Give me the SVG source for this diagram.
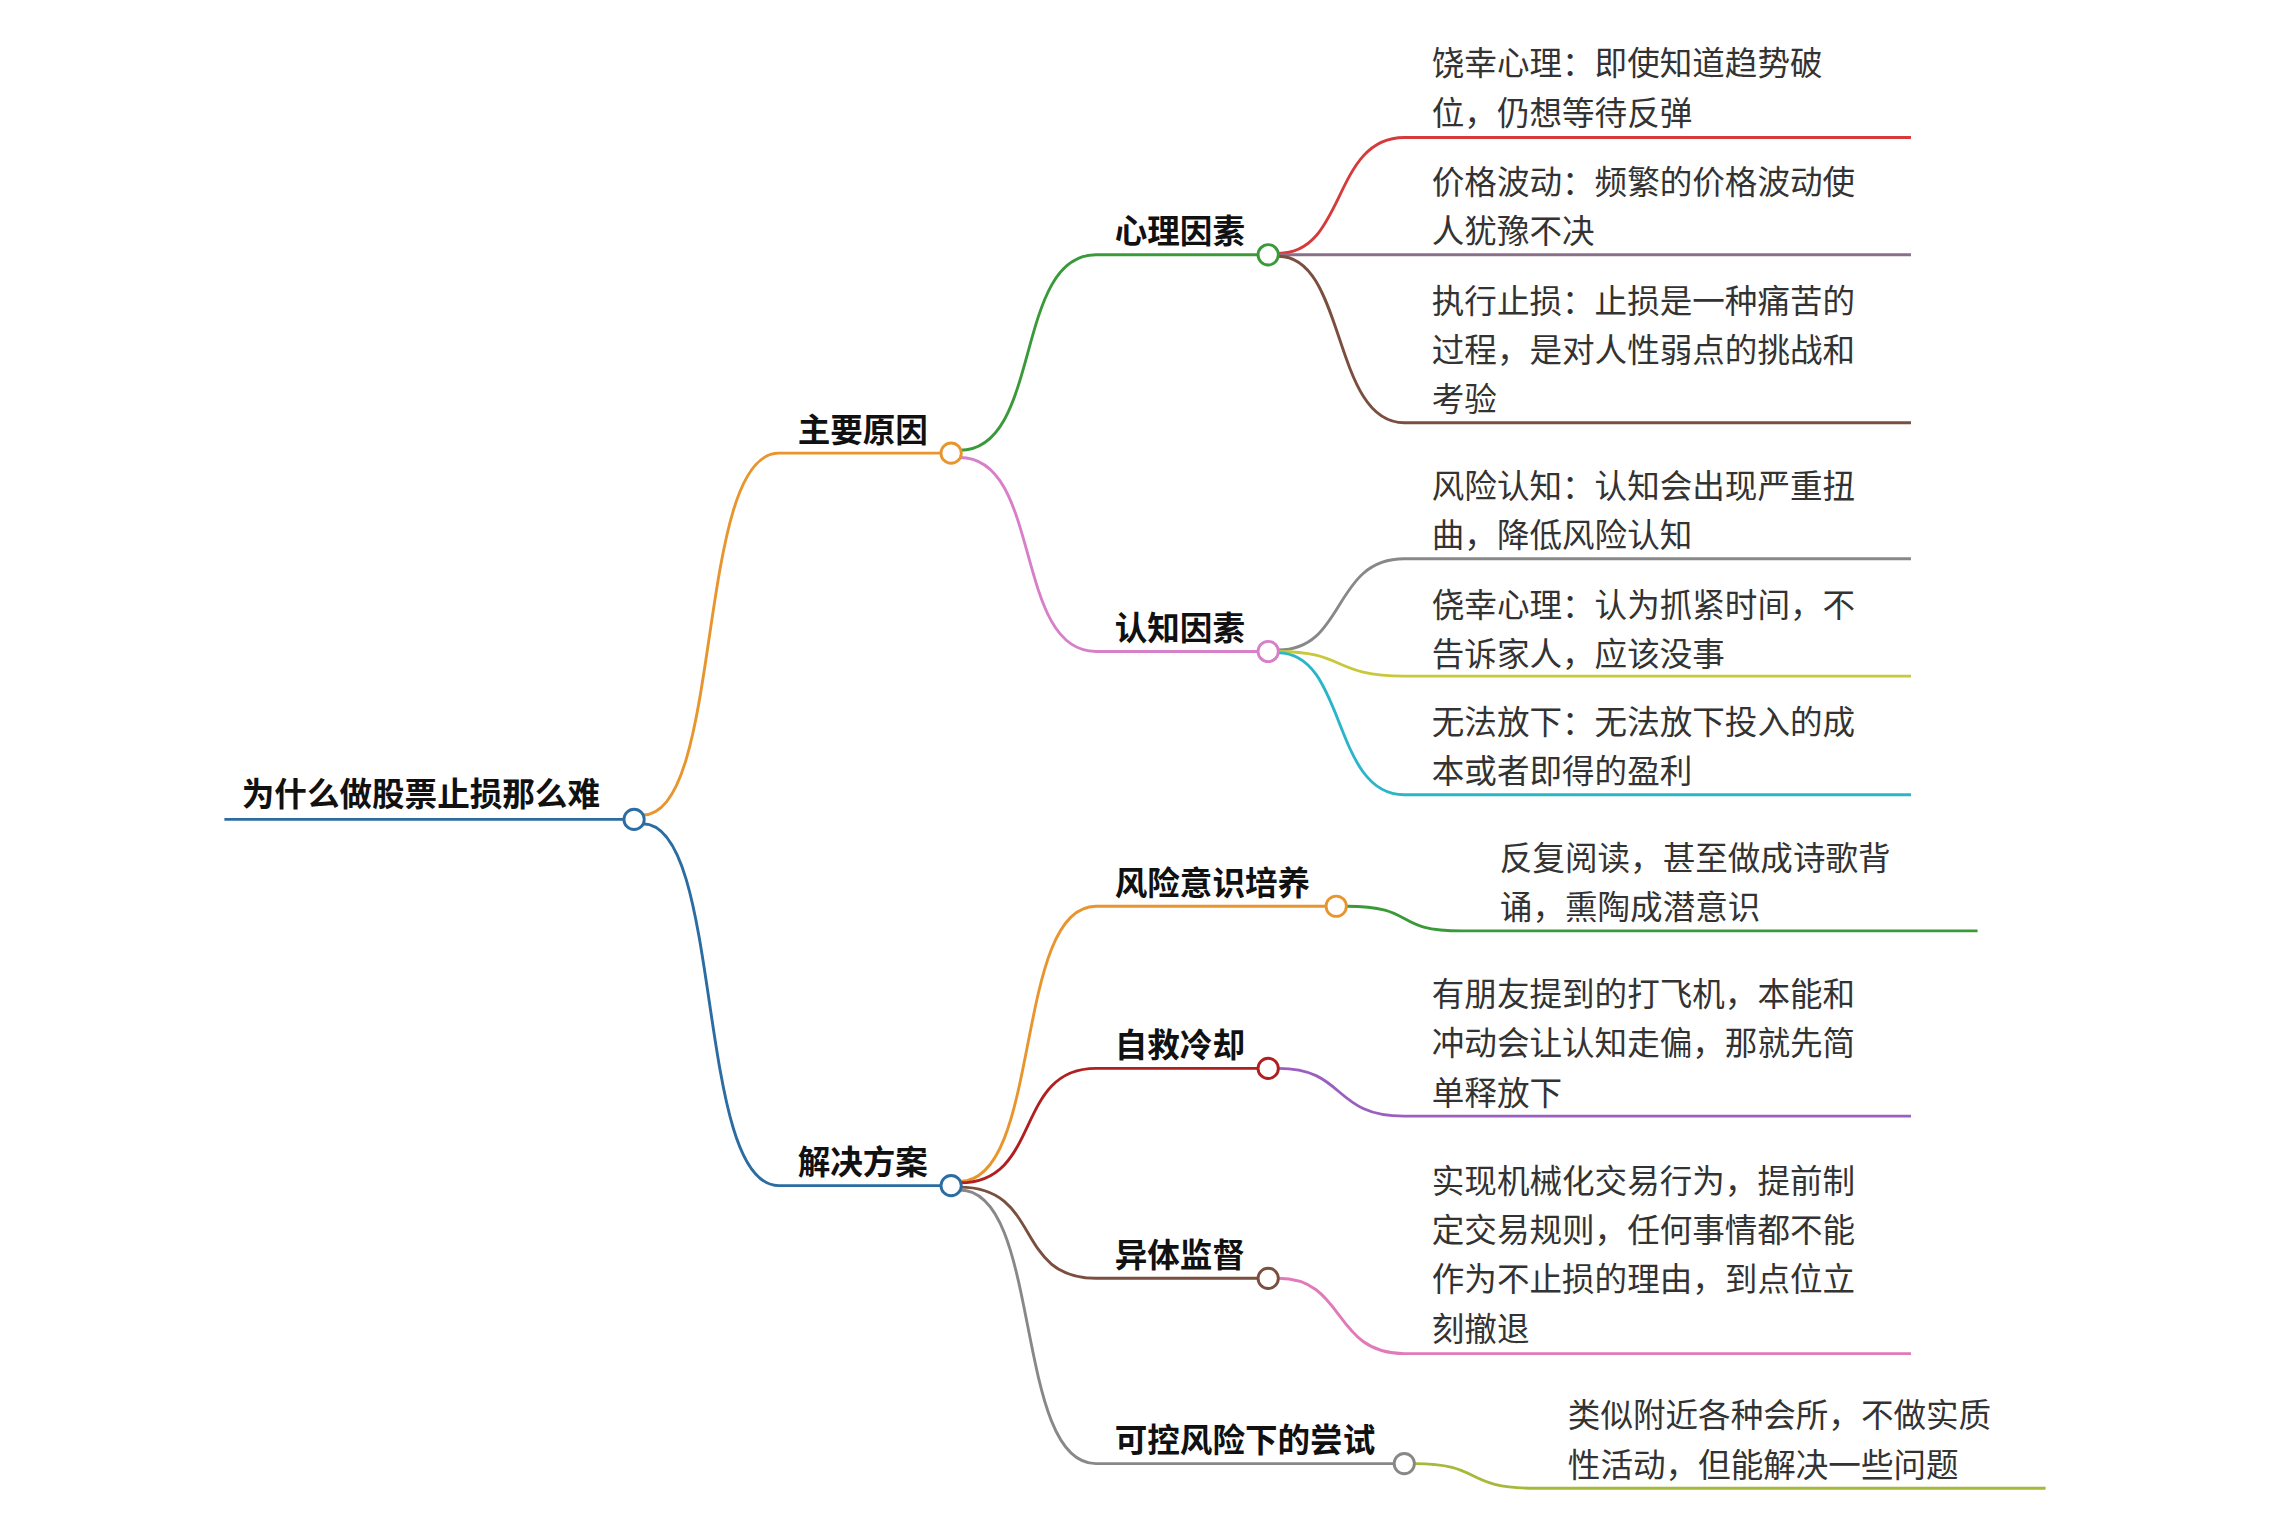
<svg xmlns="http://www.w3.org/2000/svg" width="2270" height="1527" viewBox="0 0 2270 1527">
<style>
.n{font-family:"Noto Sans CJK SC","Liberation Sans",sans-serif;font-size:22.5px;font-weight:bold;fill:#111}
.t{font-family:"Noto Sans CJK SC","Liberation Sans",sans-serif;font-size:22.5px;fill:#333}
path,line{fill:none;stroke-width:2}
circle{fill:#fff;stroke-width:2}
</style>
<rect width="2270" height="1527" fill="#fff"/>
<g transform="scale(1.4477)">
<g id="connectors">
<line x1="155" y1="566" x2="431" y2="566" stroke="#2b6ca3" stroke-width="3"/>
<path d="M444,563 C500,563 480,313 538,313 L650,313" stroke="#e8952e"/>
<path d="M444,569 C500,569 480,819 538,819 L650,819" stroke="#2b6ca3"/>
<path d="M663,311 C720,311 700,176 757,176 L869,176" stroke="#3a9a3a"/>
<path d="M663,316 C720,316 700,450 757,450 L869,450" stroke="#d77fc8"/>
<path d="M883,175 C930,175 920,95 970,95 L1320,95" stroke="#d63a3a"/>
<path d="M883,176 L1320,176" stroke="#8a6f8a"/>
<path d="M883,177 C930,177 920,292 970,292 L1320,292" stroke="#7a4f3f"/>
<path d="M883,449 C930,449 920,386 970,386 L1320,386" stroke="#888"/>
<path d="M883,450 C930,450 920,467 970,467 L1320,467" stroke="#c8c83a"/>
<path d="M883,451 C930,451 920,549 970,549 L1320,549" stroke="#2bb5c8"/>
<path d="M663,816 C720,816 700,626 757,626 L916,626" stroke="#e8952e"/>
<path d="M663,817 C720,817 700,738 757,738 L869,738" stroke="#b02020"/>
<path d="M663,820 C720,820 700,883 757,883 L869,883" stroke="#7a4f3f"/>
<path d="M663,822 C720,822 700,1011 757,1011 L963,1011" stroke="#888"/>
<path d="M930,626 C980,626 960,643 1010,643 L1366,643" stroke="#3a9a3a"/>
<path d="M883,738 C930,738 920,771 970,771 L1320,771" stroke="#9b5fc0"/>
<path d="M883,883 C930,883 920,935 970,935 L1320,935" stroke="#e07ab8"/>
<path d="M977,1011 C1025,1011 1010,1028 1060,1028 L1413,1028" stroke="#a8b83a"/>
</g>
<g id="root"><text class="n" x="167" y="557">为什么做股票止损那么难</text><circle cx="438" cy="566" r="7" stroke="#2b6ca3"/></g>
<g id="zyyy"><text class="n" x="551" y="305">主要原因</text><circle cx="657" cy="313" r="7" stroke="#e8952e"/></g>
<g id="jjfa"><text class="n" x="551" y="811">解决方案</text><circle cx="657" cy="819" r="7" stroke="#2b6ca3"/></g>
<g id="xlys"><text class="n" x="770" y="168">心理因素</text><circle cx="876" cy="176" r="7" stroke="#3a9a3a"/></g>
<g id="rzys"><text class="n" x="770" y="442">认知因素</text><circle cx="876" cy="450" r="7" stroke="#d77fc8"/></g>
<g id="fxys"><text class="n" x="770" y="618">风险意识培养</text><circle cx="923" cy="626" r="7" stroke="#e8952e"/></g>
<g id="zjlq"><text class="n" x="770" y="730">自救冷却</text><circle cx="876" cy="738" r="7" stroke="#b02020"/></g>
<g id="ytjd"><text class="n" x="770" y="875">异体监督</text><circle cx="876" cy="883" r="7" stroke="#7a4f3f"/></g>
<g id="kkfx"><text class="n" x="770" y="1003">可控风险下的尝试</text><circle cx="970" cy="1011" r="7" stroke="#888"/></g>
<g id="l1"><text class="t" x="989" y="52">饶幸心理：即使知道趋势破</text><text class="t" x="989" y="86">位，仍想等待反弹</text></g>
<g id="l2"><text class="t" x="989" y="134">价格波动：频繁的价格波动使</text><text class="t" x="989" y="168">人犹豫不决</text></g>
<g id="l3"><text class="t" x="989" y="216">执行止损：止损是一种痛苦的</text><text class="t" x="989" y="250">过程，是对人性弱点的挑战和</text><text class="t" x="989" y="284">考验</text></g>
<g id="l4"><text class="t" x="989" y="344">风险认知：认知会出现严重扭</text><text class="t" x="989" y="378">曲，降低风险认知</text></g>
<g id="l5"><text class="t" x="989" y="426">侥幸心理：认为抓紧时间，不</text><text class="t" x="989" y="460">告诉家人，应该没事</text></g>
<g id="l6"><text class="t" x="989" y="507">无法放下：无法放下投入的成</text><text class="t" x="989" y="541">本或者即得的盈利</text></g>
<g id="l7"><text class="t" x="1036" y="601">反复阅读，甚至做成诗歌背</text><text class="t" x="1036" y="635">诵，熏陶成潜意识</text></g>
<g id="l8"><text class="t" x="989" y="695">有朋友提到的打飞机，本能和</text><text class="t" x="989" y="729">冲动会让认知走偏，那就先简</text><text class="t" x="989" y="763">单释放下</text></g>
<g id="l9"><text class="t" x="989" y="824">实现机械化交易行为，提前制</text><text class="t" x="989" y="858">定交易规则，任何事情都不能</text><text class="t" x="989" y="892">作为不止损的理由，到点位立</text><text class="t" x="989" y="926">刻撤退</text></g>
<g id="l10"><text class="t" x="1083" y="986">类似附近各种会所，不做实质</text><text class="t" x="1083" y="1020">性活动，但能解决一些问题</text></g>
</g>
</svg>
